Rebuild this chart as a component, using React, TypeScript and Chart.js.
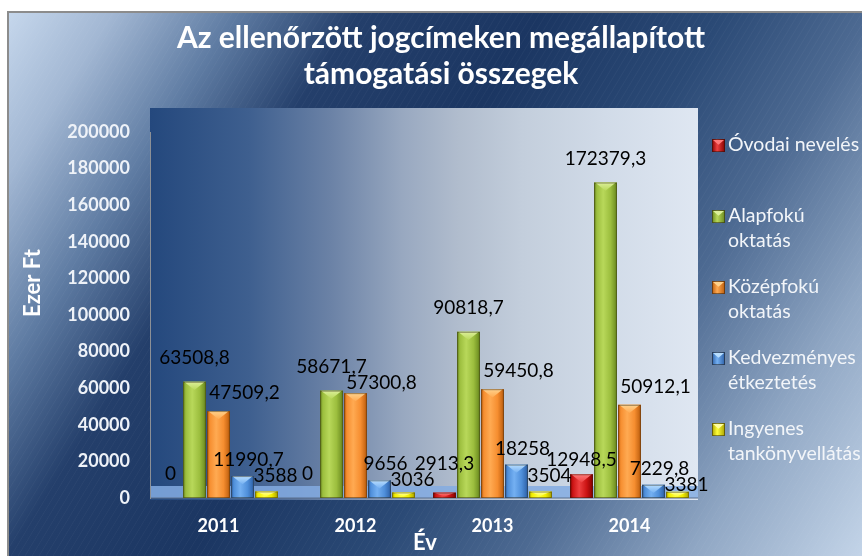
import React, { useEffect, useRef } from 'react';
import { Chart, registerables } from 'chart.js';

Chart.register(...registerables);

// ---------- data ----------
const YEARS = ['2011', '2012', '2013', '2014'];
const SERIES_NAMES = [
  ['Óvodai nevelés'],
  ['Alapfokú', 'oktatás'],
  ['Középfokú', 'oktatás'],
  ['Kedvezményes', 'étkeztetés'],
  ['Ingyenes', 'tankönyvellátás'],
];
const OVODAI = [0, 0, 2913.3, 12948.5];
const ALAPFOKU = [63508.8, 58671.7, 90818.7, 172379.3];
const KOZEPFOKU = [47509.2, 57300.8, 59450.8, 50912.1];
const KEDVEZMENYES = [11990.7, 9656, 18258, 7229.8];
const INGYENES = [3588, 3036, 3504, 3381];
const SERIES_VALUES = [OVODAI, ALAPFOKU, KOZEPFOKU, KEDVEZMENYES, INGYENES];

const Y_MIN = 0;
const Y_MAX = 200000;
const Y_STEP = 20000;

const TITLE_LINES = ['Az ellenőrzött jogcímeken megállapított', 'támogatási összegek'];
const X_TITLE = 'Év';
const Y_TITLE = 'Ezer Ft';

// ---------- styles ----------
const STYLE = [
  { base: '#cc1414', light: '#ee4040', dark: '#860000', bevel: '#ff7a7a', dx: 0, dy: -24 },
  { base: '#9cbe3e', light: '#b8d85a', dark: '#68881e', bevel: '#dcef9a', dx: 0, dy: -24 },
  { base: '#f68e30', light: '#ffaa52', dark: '#bb5c0c', bevel: '#ffd28c', dx: 26, dy: -18 },
  { base: '#4f8fda', light: '#74b0f2', dark: '#2c5fa6', bevel: '#b8deff', dx: 6, dy: -16 },
  { base: '#f2ee00', light: '#ffff3a', dark: '#aaa200', bevel: '#ffffa0', dx: 9, dy: -16 },
];

const FONT = 'Lato, "Open Sans", "DejaVu Sans", sans-serif';

const fmt = (v: number) => String(v).replace('.', ',');

function drawBar3D(ctx: CanvasRenderingContext2D, left: number, top: number, w: number, bottom: number, st: any) {
  const h = bottom - top;
  if (h <= 0.5) return;
  const g = ctx.createLinearGradient(left, 0, left + w, 0);
  g.addColorStop(0, st.dark);
  g.addColorStop(0.12, st.base);
  g.addColorStop(0.4, st.light);
  g.addColorStop(0.72, st.base);
  g.addColorStop(1, st.dark);
  ctx.fillStyle = g;
  ctx.fillRect(left, top, w, h);
  const bh = Math.min(w * 0.36, h * 0.7);
  const bg = ctx.createLinearGradient(0, top, 0, top + bh);
  bg.addColorStop(0, st.bevel);
  bg.addColorStop(1, st.light);
  ctx.fillStyle = bg;
  ctx.beginPath();
  ctx.moveTo(left + 1, top);
  ctx.lineTo(left + w - 1, top);
  ctx.lineTo(left + w / 2, top + bh);
  ctx.closePath();
  ctx.fill();
  ctx.strokeStyle = 'rgba(40,30,10,0.45)';
  ctx.lineWidth = 1;
  ctx.strokeRect(left + 0.5, top + 0.5, w - 1, h - 1);
}

const backgroundPlugin = {
  id: 'bg3d',
  beforeDraw(chart: any) {
    const { ctx, chartArea: a, width, height } = chart;
    ctx.save();
    const og = ctx.createLinearGradient(0, 0, width, height);
    og.addColorStop(0, '#cbdcf0');
    og.addColorStop(0.1, '#a2b7d3');
    og.addColorStop(0.2, '#5f7ca3');
    og.addColorStop(0.3, '#243f6b');
    og.addColorStop(0.45, '#1b3662');
    og.addColorStop(0.6, '#2b4a76');
    og.addColorStop(0.72, '#4d6a92');
    og.addColorStop(0.86, '#90a7c4');
    og.addColorStop(1, '#c3d4e8');
    ctx.fillStyle = og;
    ctx.fillRect(7, 11, width, height);
    ctx.save();
    ctx.beginPath();
    ctx.rect(7, 11, width, height);
    ctx.clip();
    ctx.strokeStyle = 'rgba(255,255,255,0.035)';
    ctx.lineWidth = 1;
    for (let x = -height; x < width + height; x += 7) {
      ctx.beginPath();
      ctx.moveTo(x, height);
      ctx.lineTo(x + height * 0.6, 0);
      ctx.stroke();
    }
    ctx.restore();
    ctx.strokeStyle = '#8c8c8c';
    ctx.lineWidth = 2;
    ctx.strokeRect(8, 12, width + 10, height + 10);
    const wallTop = a.top - 24;
    const wg = ctx.createLinearGradient(a.left, 0, a.right, 0);
    wg.addColorStop(0, '#24487d');
    wg.addColorStop(0.18, '#3e5f8f');
    wg.addColorStop(0.33, '#6b82a6');
    wg.addColorStop(0.46, '#98a8c0');
    wg.addColorStop(0.56, '#b0bccd');
    wg.addColorStop(0.68, '#c3cedc');
    wg.addColorStop(0.83, '#d1dbe8');
    wg.addColorStop(1, '#dfe7f2');
    ctx.fillStyle = wg;
    ctx.fillRect(a.left, wallTop, a.right - a.left, a.bottom - wallTop + 2);
    ctx.restore();
  },
  beforeDatasetsDraw(chart: any) {
    const { ctx, chartArea: a } = chart;
    ctx.save();
    ctx.fillStyle = 'rgba(132,172,226,0.85)';
    ctx.fillRect(a.left + 1, a.bottom - 12, a.right - a.left - 1, 12);
    ctx.fillStyle = 'rgba(90,110,140,0.5)';
    ctx.fillRect(a.left + 1, a.bottom - 1, a.right - a.left - 1, 2);
    ctx.restore();
  },
};

const barsPlugin = {
  id: 'bars3d',
  afterDatasetsDraw(chart: any) {
    const ctx = chart.ctx;
    ctx.save();
    chart.data.datasets.forEach((ds: any, d: number) => {
      const meta = chart.getDatasetMeta(d);
      meta.data.forEach((el: any) => {
        const p = el.getProps(['x', 'y', 'base', 'width'], true);
        drawBar3D(ctx, p.x - p.width / 2, Math.min(p.y, p.base), p.width, Math.max(p.y, p.base), STYLE[d]);
      });
    });
    ctx.font = `19px ${FONT}`;
    ctx.fillStyle = '#000000';
    ctx.textAlign = 'center';
    ctx.textBaseline = 'middle';
    const placed: { x1: number; y1: number; x2: number; y2: number }[] = [];
    const h = 15;
    for (let i = 0; i < chart.data.labels.length; i++) {
      chart.data.datasets.forEach((ds: any, d: number) => {
        const el = chart.getDatasetMeta(d).data[i];
        if (!el) return;
        const p = el.getProps(['x', 'y'], true);
        const text = fmt(ds.data[i]);
        const w = ctx.measureText(text).width;
        const cx = p.x + STYLE[d].dx;
        let cy = p.y + STYLE[d].dy;
        for (let k = 0; k < 6; k++) {
          const hit = placed.find(
            (r) => cx - w / 2 < r.x2 && cx + w / 2 > r.x1 && cy - h / 2 < r.y2 && cy + h / 2 > r.y1
          );
          if (!hit) break;
          const hc = (hit.y1 + hit.y2) / 2;
          cy = cy >= hc ? hit.y2 + h / 2 + 1 : hit.y1 - h / 2 - 1;
        }
        placed.push({ x1: cx - w / 2, y1: cy - h / 2, x2: cx + w / 2, y2: cy + h / 2 });
        ctx.fillText(text, cx, cy);
      });
    }
    ctx.restore();
  },
};

const textPlugin = {
  id: 'texts',
  afterDraw(chart: any) {
    const { ctx, chartArea: a } = chart;
    ctx.save();
    ctx.fillStyle = '#ffffff';
    ctx.textAlign = 'center';
    ctx.textBaseline = 'middle';
    ctx.font = `bold 30px ${FONT}`;
    TITLE_LINES.forEach((line, i) => ctx.fillText(line, 441, 38 + i * 36));
    ctx.font = `bold 22px ${FONT}`;
    ctx.fillText(X_TITLE, 425, 543);
    ctx.save();
    ctx.translate(33, 283);
    ctx.rotate(-Math.PI / 2);
    ctx.fillText(Y_TITLE, 0, 0);
    ctx.restore();
    const lx = a.right + 14;
    const ly0 = a.top + 13;
    ctx.textAlign = 'left';
    ctx.font = `19.5px ${FONT}`;
    SERIES_NAMES.forEach((lines, i) => {
      const yTop = ly0 + i * 71;
      const st = STYLE[i];
      const s = 13;
      const sx = lx;
      const sy = yTop - 6;
      const g = ctx.createLinearGradient(sx, 0, sx + s, 0);
      g.addColorStop(0, st.dark);
      g.addColorStop(0.4, st.light);
      g.addColorStop(1, st.dark);
      ctx.fillStyle = g;
      ctx.fillRect(sx, sy, s, s);
      ctx.fillStyle = st.bevel;
      ctx.beginPath();
      ctx.moveTo(sx + 1, sy + 1);
      ctx.lineTo(sx + s - 1, sy + 1);
      ctx.lineTo(sx + s / 2, sy + s * 0.45);
      ctx.closePath();
      ctx.fill();
      ctx.strokeStyle = 'rgba(30,20,10,0.5)';
      ctx.lineWidth = 1;
      ctx.strokeRect(sx + 0.5, sy + 0.5, s - 1, s - 1);
      ctx.fillStyle = '#f2f5f9';
      lines.forEach((line, j) => ctx.fillText(line, lx + 16, yTop + j * 25));
    });
    ctx.restore();
  },
};

export default function App() {
  const ref = useRef<HTMLCanvasElement | null>(null);
  useEffect(() => {
    if (!ref.current) return;
    const chart = new Chart(ref.current, {
      type: 'bar',
      data: {
        labels: YEARS,
        datasets: SERIES_VALUES.map((vals, i) => ({
          label: SERIES_NAMES[i].join(' '),
          data: vals,
          backgroundColor: STYLE[i].base,
          borderWidth: 0,
          barPercentage: 0.95,
          categoryPercentage: 0.876,
        })),
      },
      options: {
        responsive: false,
        animation: false,
        events: [],
        layout: { padding: { top: 132, right: 164, bottom: 0, left: 0 } },
        plugins: {
          legend: { display: false },
          title: { display: false },
          tooltip: { enabled: false },
        },
        scales: {
          x: {
            grid: { display: false, drawTicks: false },
            border: { display: false },
            ticks: {
              color: '#ffffff',
              font: { family: FONT, weight: 'bold', size: 18 },
              padding: 17,
              maxRotation: 0,
            },
            afterFit: (s: any) => {
              s.height = 58;
            },
          },
          y: {
            min: Y_MIN,
            max: Y_MAX,
            grid: { display: false, drawTicks: false },
            border: { display: true, color: '#8c9096', width: 1 },
            ticks: {
              stepSize: Y_STEP,
              color: '#eef2f8',
              font: { family: FONT, weight: 'bold', size: 18 },
              padding: 20,
              callback: (v: any) => String(v),
            },
            afterFit: (s: any) => {
              s.width = 150;
            },
          },
        },
      } as any,
      plugins: [backgroundPlugin, barsPlugin, textPlugin],
    });
    return () => chart.destroy();
  }, []);
  return (
    <div style={{ position: 'fixed', left: 0, top: 0, width: 862, height: 556, background: '#ffffff' }}>
      <canvas ref={ref} width={862} height={556} style={{ display: 'block', width: 862, height: 556 }} />
    </div>
  );
}
